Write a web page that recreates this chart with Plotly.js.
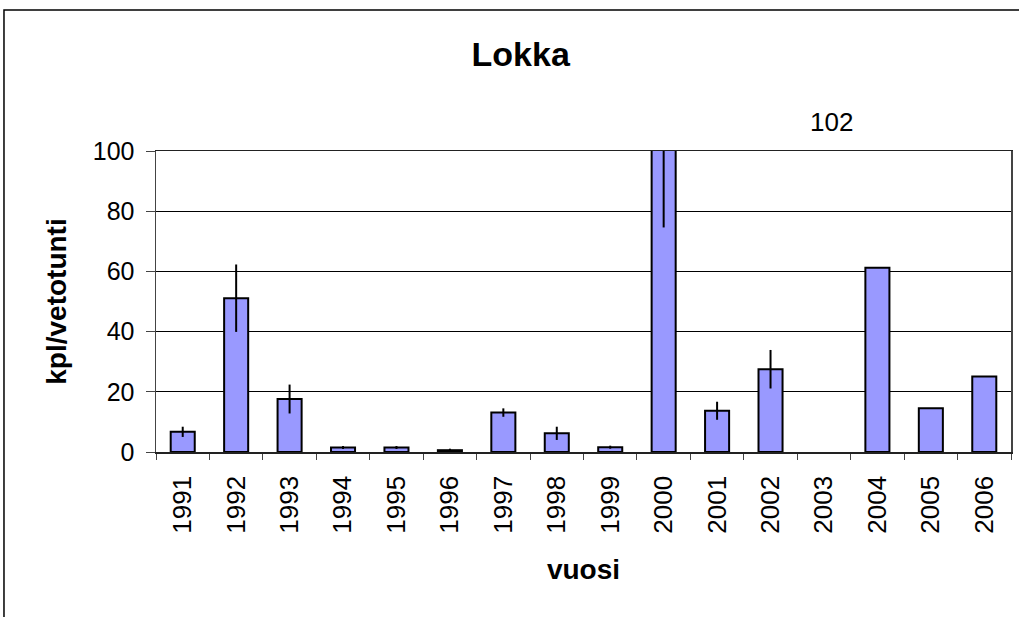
<!DOCTYPE html>
<html>
<head>
<meta charset="utf-8">
<script src="https://cdn.plot.ly/plotly-3.0.1.min.js"></script>
<style>html,body{margin:0;padding:0;background:#fff;}#chart{width:1019px;height:617px;}</style>
</head>
<body>
<div id="chart"></div>
<script>
const years = ['1991','1992','1993','1994','1995','1996','1997','1998','1999','2000','2001','2002','2003','2004','2005','2006'];
const values = [6.7, 51.1, 17.6, 1.5, 1.5, 0.6, 13.1, 6.2, 1.6, 102, 13.7, 27.5, null, 61.2, 14.5, 25.1];
const errors = [1.7, 11.2, 4.8, 0.5, 0.5, 0.5, 1.4, 2.2, 0.5, 27.4, 3.0, 6.4, null, 0, 0, 0];
const yTicks = [0, 20, 40, 60, 80, 100];
const chartTitle = 'Lokka';
const xTitle = 'vuosi';
const yTitle = 'kpl/vetotunti';
const offscaleLabel = '102';

const font = 'Liberation Sans, Arial, sans-serif';

const trace = {
  type: 'bar',
  x: years,
  y: values,
  width: 0.45,
  marker: {color: '#9999FF', line: {color: '#000000', width: 2}},
  error_y: {type: 'data', array: errors, visible: true, color: '#000000', thickness: 2, width: 0},
  cliponaxis: true,
  hoverinfo: 'x+y'
};

const layout = {
  width: 1019, height: 617,
  margin: {l: 156, r: 8, t: 151, b: 165, pad: 0},
  paper_bgcolor: '#ffffff', plot_bgcolor: '#ffffff',
  font: {family: font, color: '#000000'},
  showlegend: false,
  bargap: 0.55,
  title: {text: '<b>' + chartTitle + '</b>', font: {size: 34, family: font, color: '#000'}, xref: 'container', x: 0.511, yref: 'container', y: 0.9125, yanchor: 'middle'},
  xaxis: {
    type: 'category',
    tickangle: -90,
    tickfont: {size: 26, family: font},
    ticks: 'outside', tickson: 'boundaries', ticklen: 6, tickcolor: '#444', tickwidth: 1,
    ticklabelstandoff: 12,
    showline: true, linecolor: '#222', linewidth: 1.5, mirror: true,
    showgrid: false,
    title: {text: '<b>' + xTitle + '</b>', font: {size: 28, family: font}, standoff: 26}
  },
  yaxis: {
    range: [0, 100],
    tickvals: yTicks,
    tickfont: {size: 25, family: font},
    ticks: 'outside', ticklen: 9, tickcolor: '#444',
    ticklabelstandoff: 6,
    showline: true, linecolor: '#444', linewidth: 1.5, mirror: true,
    showgrid: true, gridcolor: '#000000', gridwidth: 1,
    zeroline: false,
    title: {text: '<b>' + yTitle + '</b>', font: {size: 28, family: font}, standoff: 18}
  },
  annotations: [{
    text: offscaleLabel, xref: 'paper', yref: 'paper', x: 0.7906, y: 1.0963,
    xanchor: 'center', yanchor: 'middle', showarrow: false, font: {size: 26, family: font}
  }],
  shapes: [{
    type: 'rect', xref: 'paper', yref: 'paper', x0: -0.1778, x1: 1.03, y0: -0.6, y1: 1.4684,
    line: {color: '#000000', width: 1.5}, fillcolor: 'rgba(0,0,0,0)', layer: 'below'
  }]
};

Plotly.newPlot('chart', [trace], layout, {displayModeBar: false, staticPlot: true});
</script>
</body>
</html>
